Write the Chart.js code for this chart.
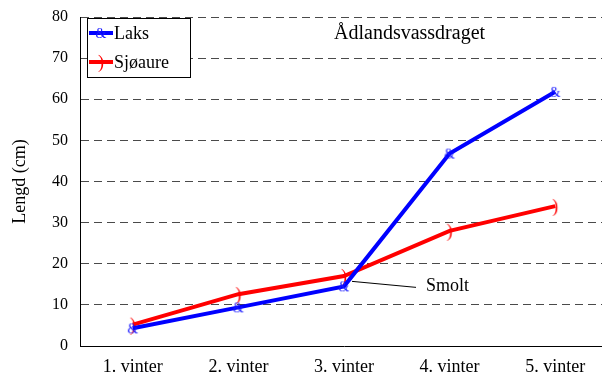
<!DOCTYPE html>
<html>
<head>
<meta charset="utf-8">
<script src="https://cdn.jsdelivr.net/npm/chart.js@4/dist/chart.umd.min.js"></script>
<style>
  html, body { margin: 0; padding: 0; background: #fff; overflow: hidden; }
  #wrap { width: 618px; height: 374px; }
</style>
</head>
<body>
<div id="wrap"><canvas id="c" width="618" height="374"></canvas></div>
<script>
// Mean length per winter of age, Ådlandsvassdraget
const categories = ['1. vinter', '2. vinter', '3. vinter', '4. vinter', '5. vinter'];
const laks = [4.3, 9.4, 14.5, 46.8, 61.8];
const sjoaure = [5.2, 12.6, 17.0, 28.0, 34.0];
const yTicks = [0, 10, 20, 30, 40, 50, 60, 70, 80];
const seriesNames = ['Laks', 'Sjøaure'];
const chartTitle = 'Ådlandsvassdraget';
const noteText = 'Smolt';
const noteIndex = 2; // smolt age, marked on the Laks curve

const SERIF = 'Liberation Serif';
Chart.defaults.font.family = SERIF;

// Small glyph markers used for the points
function glyphMarker(ch, color, size) {
  const c = document.createElement('canvas');
  c.width = 16; c.height = 20;
  const g = c.getContext('2d');
  g.font = size + 'px ' + SERIF;
  g.fillStyle = color;
  g.textAlign = 'center';
  g.textBaseline = 'middle';
  g.fillText(ch, 8, 11);
  return c;
}
const laksMarker = glyphMarker('&', '#1a1aff', 14);
const sjoMarker = glyphMarker(')', '#ff0000', 18);

// Framed legend, title and the smolt note drawn inside the plot area
const overlay = {
  id: 'overlay',
  afterDatasetsDraw(chart) {
    const ctx = chart.ctx;
    ctx.save();
    // legend frame
    ctx.fillStyle = '#fff';
    ctx.strokeStyle = '#000';
    ctx.lineWidth = 1;
    ctx.fillRect(87.5, 18.5, 103, 59);
    ctx.strokeRect(87.5, 18.5, 103, 59);
    const rows = [33, 62];
    chart.data.datasets.forEach((ds, i) => {
      const y = rows[i];
      ctx.strokeStyle = ds.borderColor;
      ctx.lineWidth = 4;
      ctx.beginPath();
      ctx.moveTo(89, y);
      ctx.lineTo(113, y);
      ctx.stroke();
      const m = ds.pointStyle;
      ctx.drawImage(m, 101 - m.width / 2, y - m.height / 2);
      ctx.fillStyle = '#000';
      ctx.font = '18px ' + SERIF;
      ctx.textAlign = 'left';
      ctx.textBaseline = 'middle';
      ctx.fillText(ds.label, 114, y + 1);
    });
    // title
    ctx.font = '20px ' + SERIF;
    ctx.fillStyle = '#000';
    ctx.textAlign = 'left';
    ctx.textBaseline = 'middle';
    ctx.fillText(chartTitle, 334, 34);
    // smolt note
    const p = chart.getDatasetMeta(0).data[noteIndex];
    ctx.strokeStyle = '#000';
    ctx.lineWidth = 1;
    ctx.beginPath();
    ctx.moveTo(p.x + 8, p.y - 5);
    ctx.lineTo(p.x + 72, p.y + 1);
    ctx.stroke();
    ctx.font = '18px ' + SERIF;
    ctx.fillText(noteText, p.x + 82, p.y);
    ctx.restore();
  }
};

new Chart(document.getElementById('c'), {
  type: 'line',
  data: {
    labels: categories,
    datasets: [
      {
        label: seriesNames[0],
        data: laks,
        borderColor: '#0000ff',
        borderWidth: 4,
        pointStyle: laksMarker,
        pointRadius: 6,
        tension: 0
      },
      {
        label: seriesNames[1],
        data: sjoaure,
        borderColor: '#ff0000',
        borderWidth: 4,
        pointStyle: sjoMarker,
        pointRadius: 6,
        tension: 0
      }
    ]
  },
  options: {
    responsive: false,
    animation: false,
    layout: { padding: { left: 0, top: 17, right: 5, bottom: 0 } },
    plugins: {
      legend: { display: false },
      tooltip: { enabled: false }
    },
    scales: {
      x: {
        offset: true,
        grid: { display: false, drawTicks: false },
        border: { display: true, color: '#000', width: 1 },
        ticks: { color: '#000', font: { family: SERIF, size: 18 }, padding: 10, maxRotation: 0 },
        afterFit(s) { s.height = 28; s.paddingLeft = 0; s.paddingRight = 0; }
      },
      y: {
        min: 0,
        max: 80,
        afterBuildTicks(s) { s.ticks = yTicks.map(v => ({ value: v })); },
        grid: {
          drawTicks: false,
          color: ctx => (ctx.tick && ctx.tick.value === 0 ? 'rgba(0,0,0,0)' : '#4a4a4a'),
          lineWidth: 1
        },
        border: { display: true, color: '#000', width: 1, dash: [8, 5] },
        ticks: { color: '#000', font: { family: SERIF, size: 16 }, padding: 12 },
        title: {
          display: true,
          text: 'Lengd (cm)',
          color: '#000',
          font: { family: SERIF, size: 18 },
          padding: { top: 9, bottom: 0 }
        },
        afterFit(s) { s.width = 80; s.paddingTop = 0; s.paddingBottom = 0; }
      }
    }
  },
  plugins: [overlay]
});
</script>
</body>
</html>
